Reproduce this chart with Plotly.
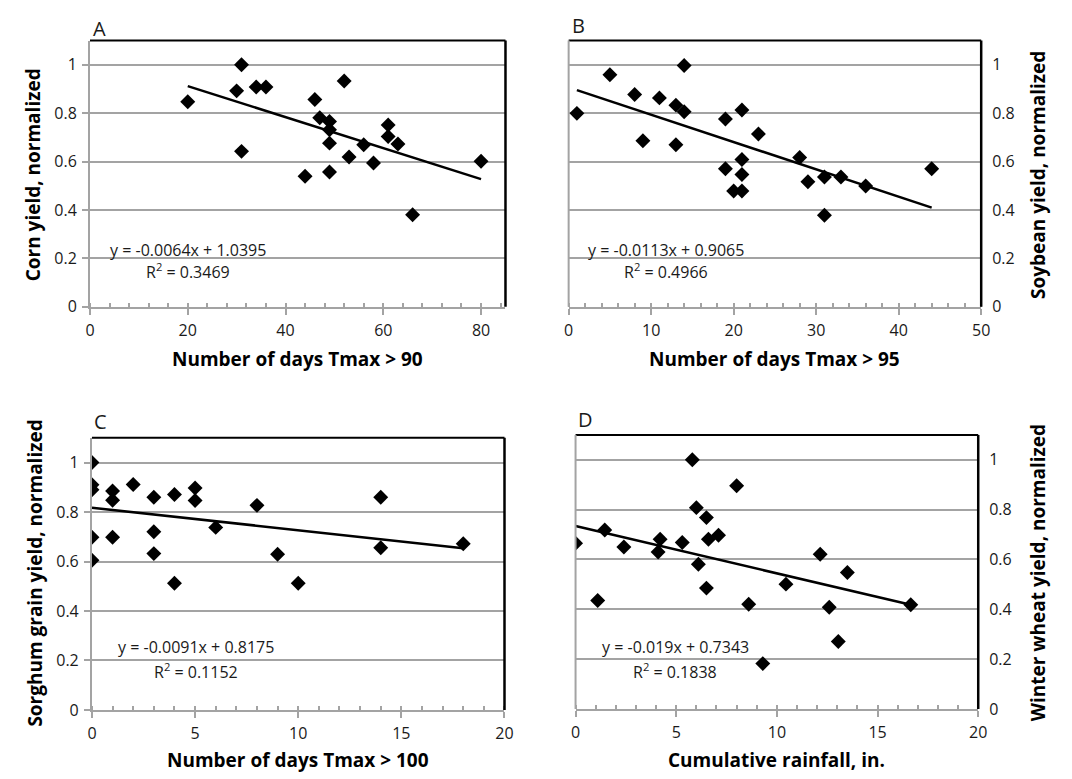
import plotly.graph_objects as go

# ---------------- data ----------------
corn_days = [20, 30, 31, 31, 34, 36, 44, 46, 47, 49, 49, 49, 49, 52, 53, 56, 58, 61, 61, 63, 66, 80]
corn_yield = [0.847, 0.892, 1.0, 0.642, 0.908, 0.908, 0.539, 0.856, 0.781, 0.765, 0.731, 0.676,
              0.557, 0.933, 0.619, 0.669, 0.594, 0.751, 0.703, 0.672, 0.380, 0.601]
corn_fit = (-0.0064, 1.0395)

soy_days = [1, 5, 8, 9, 11, 13, 13, 14, 14, 19, 19, 20, 21, 21, 21, 21, 23, 28, 29, 31, 31, 33, 36, 44]
soy_yield = [0.799, 0.959, 0.877, 0.686, 0.863, 0.833, 0.669, 0.997, 0.806, 0.776, 0.570, 0.478,
             0.813, 0.608, 0.546, 0.478, 0.714, 0.617, 0.516, 0.536, 0.378, 0.536, 0.499, 0.570]
soy_fit = (-0.0113, 0.9065)

sorghum_days = [0, 0, 0, 0, 0, 1, 1, 1, 2, 3, 3, 3, 4, 4, 5, 5, 6, 8, 9, 10, 14, 14, 18]
sorghum_yield = [1.0, 0.91, 0.89, 0.698, 0.605, 0.885, 0.848, 0.698, 0.911, 0.86, 0.72, 0.632,
                 0.871, 0.512, 0.897, 0.847, 0.738, 0.827, 0.629, 0.512, 0.86, 0.656, 0.672]
sorghum_fit = (-0.0091, 0.8175)

wheat_rain = [0, 1.1, 1.45, 2.4, 4.1, 4.2, 5.3, 5.8, 6.0, 6.1, 6.5, 6.5, 6.6, 7.1, 8.0, 8.6, 9.3,
              10.45, 12.15, 12.6, 13.05, 13.5, 16.65]
wheat_yield = [0.665, 0.435, 0.718, 0.650, 0.630, 0.681, 0.668, 1.0, 0.808, 0.581, 0.768, 0.485,
               0.681, 0.697, 0.896, 0.42, 0.182, 0.501, 0.621, 0.408, 0.271, 0.548, 0.418]
wheat_fit = (-0.019, 0.7343)

y_tickvals = [0, 0.2, 0.4, 0.6, 0.8, 1.0]
y_ticktext = ["0", "0.2", "0.4", "0.6", "0.8", "1"]

panels = [
    dict(letter="A", x=corn_days, y=corn_yield, fit=corn_fit,
         eq="y = -0.0064x + 1.0395", r2="R<sup>2</sup> = 0.3469",
         xtitle="Number of days Tmax > 90", ytitle="Corn yield, normalized",
         xmax=85, dtick=20, minor=4),
    dict(letter="B", x=soy_days, y=soy_yield, fit=soy_fit,
         eq="y = -0.0113x + 0.9065", r2="R<sup>2</sup> = 0.4966",
         xtitle="Number of days Tmax > 95", ytitle="Soybean yield, normalized",
         xmax=50, dtick=10, minor=2),
    dict(letter="C", x=sorghum_days, y=sorghum_yield, fit=sorghum_fit,
         eq="y = -0.0091x + 0.8175", r2="R<sup>2</sup> = 0.1152",
         xtitle="Number of days Tmax > 100", ytitle="Sorghum grain yield, normalized",
         xmax=20, dtick=5, minor=1),
    dict(letter="D", x=wheat_rain, y=wheat_yield, fit=wheat_fit,
         eq="y = -0.019x + 0.7343", r2="R<sup>2</sup> = 0.1838",
         xtitle="Cumulative rainfall, in.", ytitle="Winter wheat yield, normalized",
         xmax=20, dtick=5, minor=1),
]

# ---------------- layout geometry (pixels) ----------------
W, H = 1072, 779
# plot boxes: left, right, top, bottom in px
boxes = [(78, 499, 33, 303), (563, 981, 33, 303), (80, 498, 436, 712), (570, 978, 433, 711)]
ytitle_x = [20, 1038, 22, 1038]
ytitle_y = [169, 169, 573, 573]
xtitle_y = [356, 356, 763, 763]
eq_pos = [(177, 245, 177, 267), (662, 245, 662, 267), (185, 648, 185, 672), (671, 648, 671, 672)]
letter_pos = [(79, 21), (564, 18), (80, 419), (570, 417)]

FONT = "Open Sans"
GRID = "#a3a3a3"
TXT = "#1a1a1a"

fig = go.Figure()
shapes = []
annotations = []

for i, p in enumerate(panels):
    n = "" if i == 0 else str(i + 1)
    L, R, T, B = boxes[i]
    xd = [L / W, R / W]
    yd = [1 - B / H, 1 - T / H]
    right_side = i in (1, 3)

    fig.add_trace(go.Scatter(
        x=p["x"], y=p["y"], mode="markers", xaxis="x" + n, yaxis="y" + n,
        marker=dict(symbol="diamond", size=11.5, color="#000000"),
        showlegend=False, hoverinfo="x+y"))
    xs = [min(p["x"]), max(p["x"])]
    slope, icpt = p["fit"]
    fig.add_trace(go.Scatter(
        x=xs, y=[slope * v + icpt for v in xs], mode="lines", xaxis="x" + n, yaxis="y" + n,
        line=dict(color="#000000", width=2.5), showlegend=False, hoverinfo="skip"))

    fig.layout["xaxis" + n] = dict(
        domain=xd, anchor="y" + n, range=[0, p["xmax"]], dtick=p["dtick"], tick0=0,
        showgrid=False, zeroline=False, showline=True, linecolor=GRID, linewidth=2,
        ticks="outside", ticklen=6, tickwidth=2, tickcolor=GRID,
        minor=dict(dtick=p["minor"], ticks="inside", ticklen=4, tickwidth=2, tickcolor=GRID,
                   showgrid=False),
        tickfont=dict(family=FONT, size=16, color=TXT), ticklabelstandoff=2, fixedrange=True)
    fig.layout["yaxis" + n] = dict(
        domain=yd, anchor="x" + n, range=[0, 1.1], tickvals=y_tickvals, ticktext=y_ticktext,
        showgrid=True, gridcolor=GRID, gridwidth=2, zeroline=False,
        side="right" if right_side else "left",
        showline=not right_side, linecolor=GRID, linewidth=2,
        ticks="" if right_side else "outside", ticklen=6, tickwidth=2, tickcolor=GRID,
        tickfont=dict(family=FONT, size=16, color=TXT),
        ticklabelstandoff=10 if right_side else 2, fixedrange=True)

    xr = ("x" if i == 0 else "x" + n) + " domain"
    yr = ("y" if i == 0 else "y" + n) + " domain"
    shapes.append(dict(type="line", xref=xr, yref=yr, x0=0, x1=1, y0=1, y1=1,
                       line=dict(color="#000000", width=2)))
    shapes.append(dict(type="line", xref=xr, yref=yr, x0=1, x1=1, y0=0, y1=1,
                       line=dict(color="#000000", width=2.5)))
    if right_side:
        shapes.append(dict(type="line", xref=xr, yref=yr, x0=0, x1=0, y0=0, y1=1,
                           line=dict(color=GRID, width=2)))

    # axis titles
    annotations.append(dict(text="<b>" + p["xtitle"] + "</b>", xref="paper", yref="paper",
                            x=(L + R) / 2 / W, y=1 - xtitle_y[i] / H, showarrow=False,
                            xanchor="center", yanchor="middle",
                            font=dict(family=FONT, size=19, color="#000000")))
    annotations.append(dict(text="<b>" + p["ytitle"] + "</b>", xref="paper", yref="paper",
                            x=ytitle_x[i] / W, y=1 - ytitle_y[i] / H, showarrow=False,
                            textangle=-90, xanchor="center", yanchor="middle",
                            font=dict(family=FONT, size=19, color="#000000")))
    ex, ey, rx, ry = eq_pos[i]
    annotations.append(dict(text=p["eq"], xref="paper", yref="paper", x=ex / W, y=1 - ey / H,
                            showarrow=False, xanchor="center", yanchor="middle",
                            font=dict(family=FONT, size=16, color=TXT)))
    annotations.append(dict(text=p["r2"], xref="paper", yref="paper", x=rx / W, y=1 - ry / H,
                            showarrow=False, xanchor="center", yanchor="middle",
                            font=dict(family=FONT, size=16, color=TXT)))
    lx, ly = letter_pos[i]
    annotations.append(dict(text=p["letter"], xref="paper", yref="paper", x=lx / W, y=1 - ly / H,
                            showarrow=False, xanchor="left", yanchor="middle",
                            font=dict(family=FONT, size=20, color=TXT)))

fig.update_layout(width=W, height=H, margin=dict(l=0, r=0, t=0, b=0),
                  paper_bgcolor="white", plot_bgcolor="white",
                  shapes=shapes, annotations=annotations,
                  font=dict(family=FONT, color=TXT))

fig.write_html("out.html")
